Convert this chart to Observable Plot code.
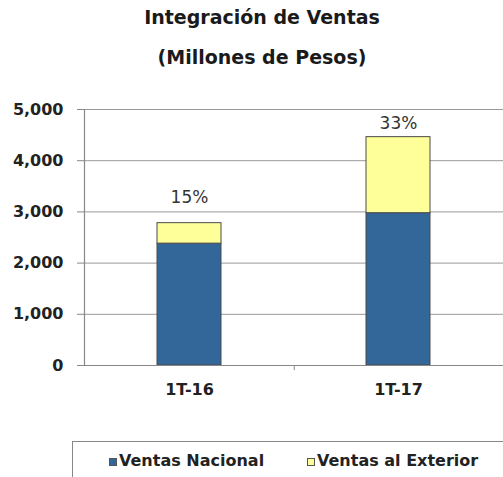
<!DOCTYPE html>
<html>
<head>
<meta charset="utf-8">
<script src="https://cdn.jsdelivr.net/npm/d3@7"></script>
<script src="https://cdn.jsdelivr.net/npm/@observablehq/plot@0.6"></script>
<style>
  html, body { margin: 0; padding: 0; background: #fff; width: 503px; height: 477px; overflow: hidden; }
  body { font-family: "DejaVu Sans", sans-serif; position: relative; }
  #title { position: absolute; left: 0; top: 0; width: 503px; height: 80px; }
  #title div { position: absolute; left: 0; width: 524px; text-align: center; font-weight: bold; font-size: 19px; color: #1a1a1a; }
  #chart { position: absolute; left: 0; top: 80px; }
  #legend { position: absolute; left: 72px; top: 441px; width: 460px; height: 40px; border-top: 1px solid #888; border-left: 1px solid #888; }
  .item { position: absolute; top: 9px; font-weight: bold; font-size: 16px; color: #222; white-space: nowrap; }
  .sw { display: inline-block; width: 6px; height: 6px; border: 1px solid #555; margin-right: 2px; vertical-align: 0; }
</style>
</head>
<body>
<div id="title">
  <div style="top:6px">Integración de Ventas</div>
  <div style="top:46px">(Millones de Pesos)</div>
</div>
<div id="chart"></div>
<div id="legend"></div>
<script>
const categories = ["1T-16", "1T-17"];
const seriesNames = ["Ventas Nacional", "Ventas al Exterior"];
const nacional = [2380, 2975];
const exterior = [400, 1485];
const pctLabels = ["15%", "33%"];
const yTicks = [0, 1000, 2000, 3000, 4000, 5000];
const colors = ["#336699", "#FFFF99"];

const rows = [];
categories.forEach((c, i) => {
  rows.push({cat: c, serie: seriesNames[0], v: nacional[i]});
  rows.push({cat: c, serie: seriesNames[1], v: exterior[i]});
});
const totals = categories.map((c, i) => ({cat: c, total: nacional[i] + exterior[i], label: pctLabels[i]}));

const fmt = d3.format(",");
const W = 503, ML = 84;
const step = (W - ML) / categories.length;

const chart = Plot.plot({
  width: W,
  height: 360,
  marginTop: 29,
  marginLeft: ML,
  marginRight: 0,
  marginBottom: 75,
  style: {fontFamily: "'DejaVu Sans', sans-serif", background: "transparent"},
  x: {domain: categories, paddingInner: 0.695, paddingOuter: 0.3475, label: null},
  y: {domain: [0, 5000], label: null},
  color: {domain: seriesNames, range: colors},
  marks: [
    Plot.ruleY(yTicks.filter(d => d > 0), {stroke: "#999", strokeWidth: 1}),
    Plot.barY(rows, {x: "cat", y: "v", fill: "serie", stroke: "#4a4a4a", strokeWidth: 1, order: seriesNames}),
    Plot.ruleY([0], {stroke: "#888", strokeWidth: 1.2}),
    Plot.frame({anchor: "left", stroke: "#888", strokeWidth: 1.2}),
    Plot.ruleX([categories[0]], {x: d => d, dx: step / 2, y1: 0, y2: -100, stroke: "#888"}),
    Plot.axisY({ticks: yTicks, tickFormat: fmt, tickSize: 7, tickPadding: 14, stroke: "#888", strokeOpacity: 1,
      fontSize: 16, fontWeight: "bold", fill: "#222", label: null}),
    Plot.axisX({tickSize: 0, tickPadding: 18, fontSize: 16, fontWeight: "bold", fill: "#222", label: null}),
    Plot.text(totals, {filter: d => d.cat === categories[0], x: "cat", y: "total", text: "label", dy: -26, fontSize: 17, fill: "#333"}),
    Plot.text(totals, {filter: d => d.cat === categories[1], x: "cat", y: "total", text: "label", dy: -14, fontSize: 17, fill: "#333"})
  ]
});
document.getElementById("chart").appendChild(chart);

const legend = document.getElementById("legend");
const legendX = [36, 234];
seriesNames.forEach((s, i) => {
  const it = document.createElement("div");
  it.className = "item";
  it.style.left = legendX[i] + "px";
  const sw = document.createElement("span");
  sw.className = "sw";
  sw.style.background = colors[i];
  it.appendChild(sw);
  it.appendChild(document.createTextNode(s));
  legend.appendChild(it);
});
</script>
</body>
</html>
